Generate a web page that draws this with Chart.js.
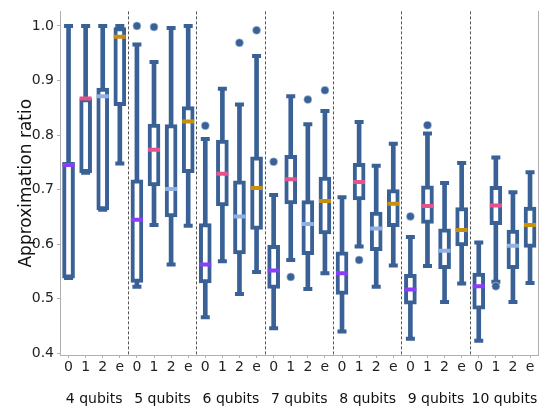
<!DOCTYPE html>
<html>
<head>
<meta charset="utf-8">
<script src="https://cdn.jsdelivr.net/npm/chart.js@4.4.1/dist/chart.umd.min.js"></script>
<style>
  html, body { margin: 0; padding: 0; background: #fff; }
</style>
</head>
<body>
<canvas id="graficaCajas" width="550" height="412"></canvas>
<script>
// 1. Data (one entry per box: 4 per group, groups of 4..10 qubits)
const grupos = ["4 qubits", "5 qubits", "6 qubits", "7 qubits", "8 qubits", "9 qubits", "10 qubits"];
const subEtiquetas = ["0", "1", "2", "e"];
const yTicks = [0.4, 0.5, 0.6, 0.7, 0.8, 0.9, 1.0];

const bigoteAlto = [1.0, 1.0, 1.0, 1.0,  0.966, 0.934, 0.996, 1.0,  0.793, 0.885, 0.856, 0.945,
                    0.690, 0.871, 0.820, 0.844,  0.686, 0.824, 0.744, 0.784,  0.613, 0.803, 0.712, 0.749,
                    0.603, 0.759, 0.695, 0.732];
const q3 = [0.750, 0.867, 0.886, 0.997,  0.718, 0.820, 0.819, 0.852,  0.638, 0.791, 0.716, 0.760,
            0.598, 0.763, 0.680, 0.723,  0.586, 0.748, 0.659, 0.700,  0.545, 0.707, 0.628, 0.667,
            0.547, 0.706, 0.626, 0.668];
const mediana = [0.745, 0.867, 0.871, 0.980,  0.645, 0.773, 0.701, 0.825,  0.563, 0.729, 0.651, 0.703,
                 0.552, 0.719, 0.637, 0.679,  0.547, 0.714, 0.629, 0.674,  0.517, 0.670, 0.588, 0.626,
                 0.523, 0.671, 0.597, 0.635];
const q1 = [0.538, 0.731, 0.663, 0.854,  0.530, 0.707, 0.650, 0.731,  0.529, 0.670, 0.582, 0.627,
            0.519, 0.674, 0.581, 0.619,  0.508, 0.681, 0.588, 0.632,  0.490, 0.638, 0.555, 0.597,
            0.481, 0.636, 0.555, 0.594];
const bigoteBajo = [0.538, 0.731, 0.663, 0.748,  0.522, 0.635, 0.563, 0.634,  0.466, 0.569, 0.509, 0.549,
                    0.446, 0.571, 0.518, 0.547,  0.440, 0.596, 0.522, 0.561,  0.427, 0.560, 0.494, 0.528,
                    0.423, 0.531, 0.494, 0.529];
// [box index, value]
const atipicos = [[4, 1.0], [5, 0.998], [8, 0.817], [10, 0.969], [11, 0.992], [12, 0.751], [13, 0.540],
                  [14, 0.865], [15, 0.882], [17, 0.571], [20, 0.651], [21, 0.818], [25, 0.523]];

// 2. Styles
const azul = "#3a6196";
const halo = "#b7cbe6";
const coloresMediana = ["#8b3dfb", "#e6538c", "#8fb1e3", "#c8900c"];
const gris = "#b0b0b0";
const fuente = "DejaVu Sans";
const nCajas = grupos.length * subEtiquetas.length;
const pos = i => i + 0.5;

new Chart(document.getElementById("graficaCajas").getContext("2d"), {
    type: "bar",
    data: {
        datasets: [
            {
                type: "scatter", // medianas
                data: mediana.map((v, i) => ({ x: pos(i), y: v })),
                pointStyle: "line",
                pointRadius: 6,
                pointBorderWidth: 4,
                pointBorderColor: mediana.map((v, i) => coloresMediana[i % 4]),
                xAxisID: "x", yAxisID: "y",
                order: 1,
            },
            {
                type: "scatter", // atipicos
                data: atipicos.map(a => ({ x: pos(a[0]), y: a[1] })),
                pointStyle: "circle",
                pointRadius: 4,
                pointBorderWidth: 0.6,
                pointBorderColor: halo,
                pointBackgroundColor: azul,
                xAxisID: "x", yAxisID: "y",
                order: 2,
            },
            {
                type: "scatter", // tapas de los bigotes
                data: bigoteAlto.map((v, i) => ({ x: pos(i), y: v }))
                    .concat(bigoteBajo.map((v, i) => ({ x: pos(i), y: v }))),
                pointStyle: "line",
                pointRadius: 4.5,
                pointBorderWidth: 4,
                pointBorderColor: azul,
                xAxisID: "x", yAxisID: "y",
                order: 3,
            },
            {
                data: q1.map((v, i) => ({ x: pos(i), y: [v, q3[i]] })), // cajas
                backgroundColor: "#fff",
                borderColor: azul,
                borderWidth: 4,
                borderSkipped: false,
                barThickness: 12,
                grouped: false,
                xAxisID: "x", yAxisID: "y",
                order: 4,
            },
            {
                data: bigoteBajo.map((v, i) => ({ x: pos(i), y: [v, bigoteAlto[i]] })), // bigotes
                backgroundColor: azul,
                borderWidth: 0,
                barThickness: 4,
                grouped: false,
                xAxisID: "x", yAxisID: "y",
                order: 5,
            },
        ],
    },
    options: {
        responsive: false,
        animation: false,
        events: [],
        layout: { padding: { left: 0, right: 11, top: 0, bottom: 0 } },
        plugins: { legend: { display: false }, tooltip: { enabled: false } },
        scales: {
            y: {
                type: "linear", position: "left", min: 0.397, max: 1.0266,
                afterBuildTicks: s => { s.ticks = yTicks.map(v => ({ value: v })); },
                afterFit: s => { s.width = 60; },
                ticks: { font: { family: fuente, size: 14 }, color: "#222", padding: 3, callback: v => v.toFixed(1) },
                grid: { drawOnChartArea: false, tickLength: 3, color: gris },
                border: { color: gris },
                title: { display: true, text: "Approximation ratio", color: "#111",
                         font: { family: fuente, size: 17 }, padding: { top: 16, bottom: 0 } },
            },
            yr: {
                type: "linear", position: "right", min: 0, max: 1,
                afterFit: s => { s.width = 0; },
                ticks: { display: false },
                grid: { display: false, drawTicks: false },
                border: { color: gris },
            },
            xs: { // lineas punteadas entre grupos
                type: "linear", position: "bottom", min: 0, max: nCajas, weight: -1, offset: false,
                afterBuildTicks: s => { s.ticks = grupos.slice(1).map((g, i) => ({ value: (i + 1) * 4 })); },
                afterFit: s => { s.height = 0; },
                ticks: { display: false },
                grid: { drawTicks: false, color: "#555", lineWidth: 1, offset: false },
                border: { display: false, dash: [3, 2] },
            },
            x: {
                type: "linear", position: "bottom", min: 0, max: nCajas, weight: 0, offset: false,
                afterBuildTicks: s => { s.ticks = mediana.map((v, i) => ({ value: pos(i) })); },
                afterFit: s => { s.height = 24; },
                ticks: { font: { family: fuente, size: 14 }, color: "#222", padding: 1, autoSkip: false, maxRotation: 0,
                         callback: (v, i) => subEtiquetas[i % 4] },
                grid: { drawOnChartArea: false, tickLength: 3, color: gris, offset: false },
                border: { color: gris },
            },
            xg: {
                type: "linear", position: "bottom", min: 0, max: nCajas, weight: 1, offset: false,
                afterBuildTicks: s => { s.ticks = grupos.map((g, i) => ({ value: i * 4 + 2 })); },
                afterFit: s => { s.height = 33; },
                ticks: { font: { family: fuente, size: 14 }, color: "#111", padding: 12, autoSkip: false, maxRotation: 0,
                         callback: (v, i) => grupos[i] },
                grid: { display: false, drawTicks: false, offset: false },
                border: { display: false },
            },
        },
    },
});
</script>
</body>
</html>
